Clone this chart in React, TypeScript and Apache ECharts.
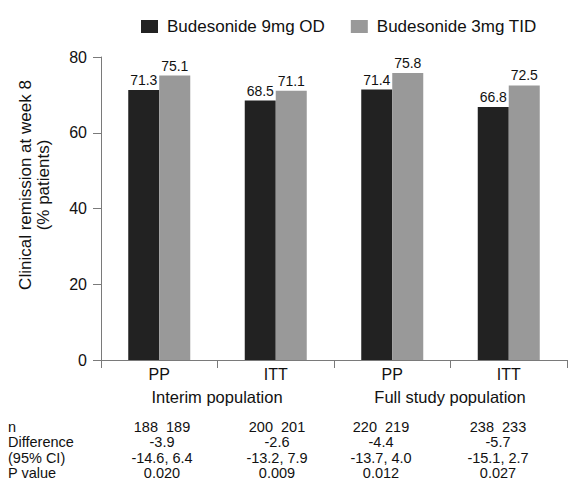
import React, { useEffect, useRef } from "react";
import * as echarts from "echarts";

const categories = ["PP", "ITT", "PP", "ITT"];
const groupLabels = ["Interim population", "Full study population"];
const series9mgName = "Budesonide 9mg OD";
const series3mgName = "Budesonide 3mg TID";
const series9mg = [71.3, 68.5, 71.4, 66.8];
const series3mg = [75.1, 71.1, 75.8, 72.5];
const yTicks = [0, 20, 40, 60, 80];
const yAxisTitle = ["Clinical remission at week 8", "(% patients)"];

const tableRowLabels = ["n", "Difference", "(95% CI)", "P value"];
const nValues = ["188  189", "200  201", "220  219", "238  233"];
const diffValues = ["-3.9", "-2.6", "-4.4", "-5.7"];
const ciValues = ["-14.6, 6.4", "-13.2, 7.9", "-13.7, 4.0", "-15.1, 2.7"];
const pValues = ["0.020", "0.009", "0.012", "0.027"];

const FONT = "'Liberation Sans', Arial, Helvetica, sans-serif";
const DARK = "#222222";
const LIGHT = "#999999";
const TEXT = "#111111";
const AXIS = "#7a7a7a";

// layout
const GRID = { left: 101, right: 1, top: 57, bottom: 123 };
const tableColX = [162, 277, 381, 498];
const tableRowY = [427, 442.3, 457.6, 473];
const tableLabelX = 8;
const tableFontSize = 14.5;
const groupLabelPos = [
  { x: 217, y: 397 },
  { x: 450, y: 397 },
];

export default function App() {
  const ref = useRef<HTMLDivElement>(null);

  useEffect(() => {
    if (!ref.current) return;
    const chart = echarts.init(ref.current, undefined, { renderer: "svg" });

    const tableCols = [nValues, diffValues, ciValues, pValues];
    const graphics: any[] = [];

    yAxisTitle.forEach((t, i) => {
      graphics.push({
        type: "text",
        x: 25 + i * 18,
        y: 185,
        rotation: Math.PI / 2,
        style: {
          text: t,
          x: 0,
          y: 0,
          align: "center",
          verticalAlign: "middle",
          fontSize: 17,
          fontFamily: FONT,
          fill: TEXT,
        },
      });
    });

    groupLabels.forEach((t, i) => {
      graphics.push({
        type: "text",
        x: groupLabelPos[i].x,
        y: groupLabelPos[i].y,
        style: {
          text: t,
          x: 0,
          y: 0,
          align: "center",
          verticalAlign: "middle",
          fontSize: 16.5,
          fontFamily: FONT,
          fill: TEXT,
        },
      });
    });

    tableRowLabels.forEach((t, r) => {
      graphics.push({
        type: "text",
        x: tableLabelX,
        y: tableRowY[r],
        style: {
          text: t,
          x: 0,
          y: 0,
          align: "left",
          verticalAlign: "middle",
          fontSize: tableFontSize,
          fontFamily: FONT,
          fill: TEXT,
        },
      });
      tableCols[r].forEach((v, c) => {
        graphics.push({
          type: "text",
          x: tableColX[c],
          y: tableRowY[r],
          style: {
            text: v,
            x: 0,
            y: 0,
            align: "center",
            verticalAlign: "middle",
            fontSize: tableFontSize,
            fontFamily: FONT,
            fill: TEXT,
          },
        });
      });
    });

    const valueLabel = {
      show: true,
      position: "top",
      distance: 3,
      fontSize: 14,
      color: TEXT,
      fontFamily: FONT,
      formatter: (p: any) => p.value.toFixed(1),
    };

    chart.setOption({
      animation: false,
      backgroundColor: "#ffffff",
      textStyle: { fontFamily: FONT },
      legend: {
        left: 136,
        top: 13,
        itemWidth: 17,
        itemHeight: 13,
        itemGap: 26,
        icon: "rect",
        textStyle: {
          fontSize: 17,
          color: TEXT,
          fontFamily: FONT,
          padding: [0, 0, 0, 4],
        },
        data: [series9mgName, series3mgName],
      },
      grid: { ...GRID, containLabel: false },
      xAxis: {
        type: "category",
        data: categories,
        axisLine: { show: true, lineStyle: { color: AXIS, width: 1 } },
        axisTick: { show: true, length: 8, lineStyle: { color: AXIS } },
        axisLabel: {
          fontSize: 16,
          color: TEXT,
          margin: 6,
          fontFamily: FONT,
        },
      },
      yAxis: {
        type: "value",
        min: yTicks[0],
        max: yTicks[yTicks.length - 1],
        interval: yTicks[1] - yTicks[0],
        splitLine: { show: false },
        axisLine: { show: true, lineStyle: { color: AXIS, width: 1 } },
        axisTick: { show: true, length: 8, lineStyle: { color: AXIS } },
        axisLabel: {
          fontSize: 16,
          color: TEXT,
          margin: 14,
          fontFamily: FONT,
        },
      },
      series: [
        {
          name: series9mgName,
          type: "bar",
          data: series9mg,
          barWidth: 31,
          barGap: "0%",
          itemStyle: { color: DARK },
          label: valueLabel,
        },
        {
          name: series3mgName,
          type: "bar",
          data: series3mg,
          barWidth: 31,
          barGap: "0%",
          itemStyle: { color: LIGHT },
          label: valueLabel,
        },
      ],
      graphic: graphics,
    });

    return () => chart.dispose();
  }, []);

  return (
    <div
      ref={ref}
      style={{
        width: 568,
        height: 483,
        position: "absolute",
        left: 0,
        top: 0,
      }}
    />
  );
}
